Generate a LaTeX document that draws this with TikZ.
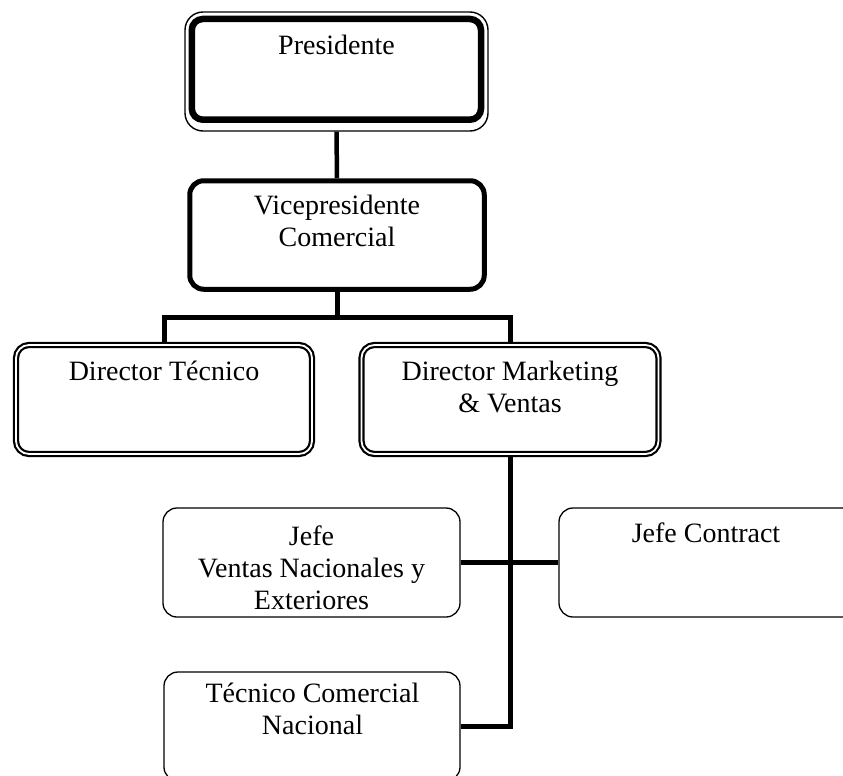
\documentclass[tikz,border=0pt]{standalone}
\usepackage{fontspec}
\setmainfont{Liberation Serif}
\usetikzlibrary{calc}
\tikzset{
  conn/.style={line width=5pt, line join=miter},
  thinbox/.style={draw, line width=1.3pt, rounded corners=14pt, inner sep=0pt, minimum width=297pt, minimum height=109pt},
  vpbox/.style={draw, line width=5pt, rounded corners=14pt, inner sep=0pt},
  dbox/.style={draw, line width=2.2pt, double=white, double distance=1.8pt, rounded corners=13pt, inner sep=0pt, minimum width=297pt, minimum height=109pt},
  presbox/.style={draw, line width=1.4pt, rounded corners=18pt, inner sep=0pt},
  lbl/.style={font=\fontsize{28}{32}\selectfont, align=center, anchor=north, inner sep=0pt},
}
\begin{document}
\begin{tikzpicture}[x=1pt, y=-1pt]
\useasboundingbox (0,0) rectangle (843,776);
% boxes
\node[presbox, minimum width=303pt, minimum height=119pt] (pres) at (336.5,71.5) {};
\draw[line width=6.5pt, rounded corners=11pt] ($(pres.north west)+(7.5,7.7)$) rectangle ($(pres.south east)+(-7.7,-12)$);
\node[vpbox, minimum width=294.5pt, minimum height=108.5pt] (vp) at (337,235) {};
\node[dbox, minimum width=296pt] (dt) at (164,399.5) {};
\node[dbox] (dmv) at (510,399.5) {};
\node[thinbox] (jv) at (311.5,562.5) {};
\node[thinbox] (jc) at (707.5,562.5) {};
\node[thinbox, minimum width=296pt] (tec) at (312,726.5) {};
% texts
\node[lbl] (tpres) at ($(pres.north)+(0,24)$) {Presidente};
\node[lbl] (tvp) at ($(vp.north)+(0,17)$) {Vicepresidente\\Comercial};
\node[lbl] (tdt) at ($(dt.north)+(0,17)$) {Director Técnico};
\node[lbl] (tdmv) at ($(dmv.north)+(0,17)$) {Director Marketing\\\& Ventas};
\node[lbl] (tjv) at ($(jv.north)+(0,18)$) {Jefe\\Ventas Nacionales y\\Exteriores};
\node[lbl] (tjc) at ($(jc.north)+(-1.5,15)$) {Jefe Contract};
\node[lbl] (ttec) at ($(tec.north)+(0.5,11)$) {Técnico Comercial\\Nacional};
% connectors
\coordinate (busy) at (0,317);
\draw[line width=4.5pt] (pres.south) -- (vp.north);
\draw[conn] (vp.south) -- (vp.south |- busy);
\draw[conn] (dt.north) |- (dmv.north |- busy) -- (dmv.north);
\draw[conn] (dmv.south) |- (tec.east);
\draw[conn] (jv.east) -- (jc.west);
\end{tikzpicture}
\end{document}
